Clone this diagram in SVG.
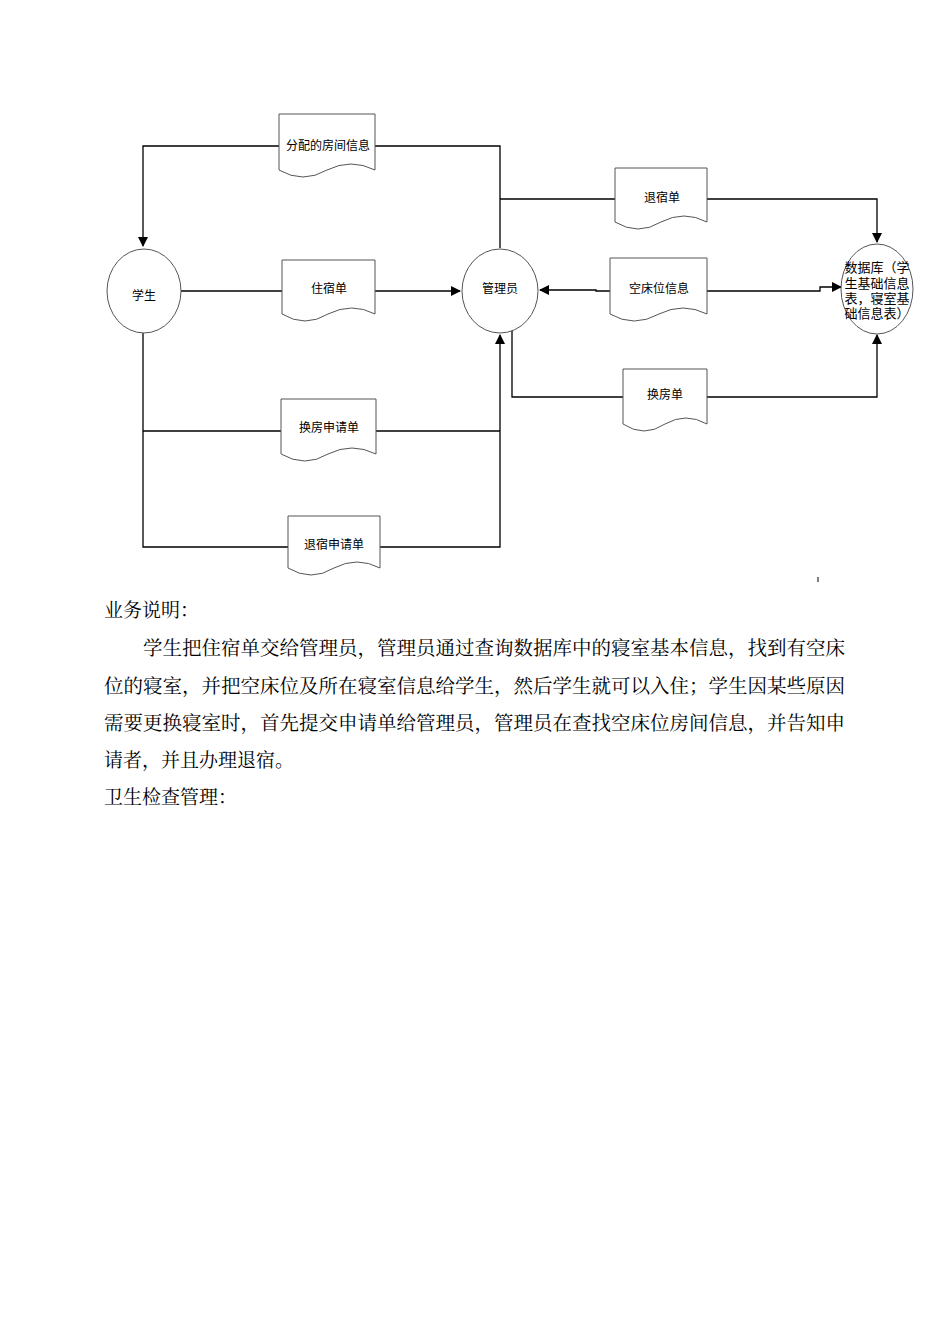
<svg xmlns="http://www.w3.org/2000/svg" width="950" height="1342" viewBox="0 0 950 1342">
<style>
.n{fill:#fff;stroke:#555;stroke-width:1}
.l{fill:none;stroke:#000;stroke-width:1.3}
.t{font-family:"Liberation Serif","Noto Sans CJK SC",serif;font-size:12px;fill:#000}
.d{font-family:"Liberation Serif","Noto Sans CJK SC",serif;font-size:13px;fill:#000}
.p{font-family:"Liberation Serif","Noto Serif CJK SC","Noto Sans CJK SC",serif;font-size:19px;fill:#000}
</style>
<defs>
<marker id="a" markerWidth="10" markerHeight="10" refX="9" refY="5" orient="auto" markerUnits="userSpaceOnUse"><path d="M0,0 L10,5 L0,10 z" fill="#000"/></marker>
</defs>
<rect width="950" height="1342" fill="#fff"/>
<g id="connectors">
<polyline class="l" points="279,146 143,146 143,246" marker-end="url(#a)"/>
<polyline class="l" points="375,146 500,146 500,248"/>
<line class="l" x1="181" y1="291" x2="282" y2="291"/>
<line class="l" x1="375" y1="291" x2="460" y2="291" marker-end="url(#a)"/>
<polyline class="l" points="500,199 615,199"/>
<polyline class="l" points="707,199 877,199 877,242" marker-end="url(#a)"/>
<polyline class="l" points="610,291 596,291 596,290 540,290" marker-end="url(#a)"/>
<polyline class="l" points="707,291 820,291 820,287 841,287" marker-end="url(#a)"/>
<polyline class="l" points="512,325 512,397 623,397"/>
<polyline class="l" points="707,397 877,397 877,335" marker-end="url(#a)"/>
<polyline class="l" points="143,333 143,547 288,547"/>
<line class="l" x1="143" y1="431" x2="281" y2="431"/>
<polyline class="l" points="376,431 500,431"/>
<polyline class="l" points="380,547 500,547 500,335" marker-end="url(#a)"/>
<line x1="818" y1="577" x2="818" y2="582" stroke="#000" stroke-width="1"/>
</g>
<g id="n1"><path class="n" d="M279,114 H375 V170 Q351,158 327,170 Q303,184 279,170 Z"/><text class="t" x="328" y="150" text-anchor="middle">分配的房间信息</text></g>
<g id="n2"><ellipse class="n" cx="144" cy="291" rx="37" ry="42"/><text class="t" x="144" y="300" text-anchor="middle">学生</text></g>
<g id="n3"><path class="n" d="M282,260 H375 V314 Q352,302 328,314 Q305,328 282,314 Z"/><text class="t" x="329" y="293" text-anchor="middle">住宿单</text></g>
<g id="n4"><ellipse class="n" cx="500" cy="291" rx="38" ry="42"/><text class="t" x="500" y="293" text-anchor="middle">管理员</text></g>
<g id="n5"><path class="n" d="M615,168 H707 V222 Q684,210 661,222 Q638,236 615,222 Z"/><text class="t" x="662" y="202" text-anchor="middle">退宿单</text></g>
<g id="n6"><path class="n" d="M610,258 H707 V314 Q683,302 659,314 Q634,328 610,314 Z"/><text class="t" x="659" y="293" text-anchor="middle">空床位信息</text></g>
<g id="n7"><ellipse class="n" cx="877" cy="289" rx="36" ry="45"/>
<text class="d" x="877" y="272" text-anchor="middle">数据库（学</text>
<text class="d" x="877" y="288" text-anchor="middle">生基础信息</text>
<text class="d" x="877" y="303" text-anchor="middle">表，寝室基</text>
<text class="d" x="877" y="318" text-anchor="middle">础信息表）</text></g>
<g id="n8"><path class="n" d="M623,369 H707 V424 Q686,412 665,424 Q644,438 623,424 Z"/><text class="t" x="665" y="399" text-anchor="middle">换房单</text></g>
<g id="n9"><path class="n" d="M281,399 H376 V454 Q352,442 328,454 Q305,468 281,454 Z"/><text class="t" x="329" y="432" text-anchor="middle">换房申请单</text></g>
<g id="n10"><path class="n" d="M288,516 H380 V568 Q357,556 334,568 Q311,582 288,568 Z"/><text class="t" x="334" y="549" text-anchor="middle">退宿申请单</text></g>
<text class="p" x="104" y="617">业务说明：</text>
<text class="p" x="143" y="655" textLength="702" lengthAdjust="spacingAndGlyphs">学生把住宿单交给管理员，管理员通过查询数据库中的寝室基本信息，找到有空床</text>
<text class="p" x="104" y="693" textLength="741" lengthAdjust="spacingAndGlyphs">位的寝室，并把空床位及所在寝室信息给学生，然后学生就可以入住；学生因某些原因</text>
<text class="p" x="104" y="730" textLength="741" lengthAdjust="spacingAndGlyphs">需要更换寝室时，首先提交申请单给管理员，管理员在查找空床位房间信息，并告知申</text>
<text class="p" x="104" y="767">请者，并且办理退宿。</text>
<text class="p" x="104" y="804">卫生检查管理：</text>
</svg>
